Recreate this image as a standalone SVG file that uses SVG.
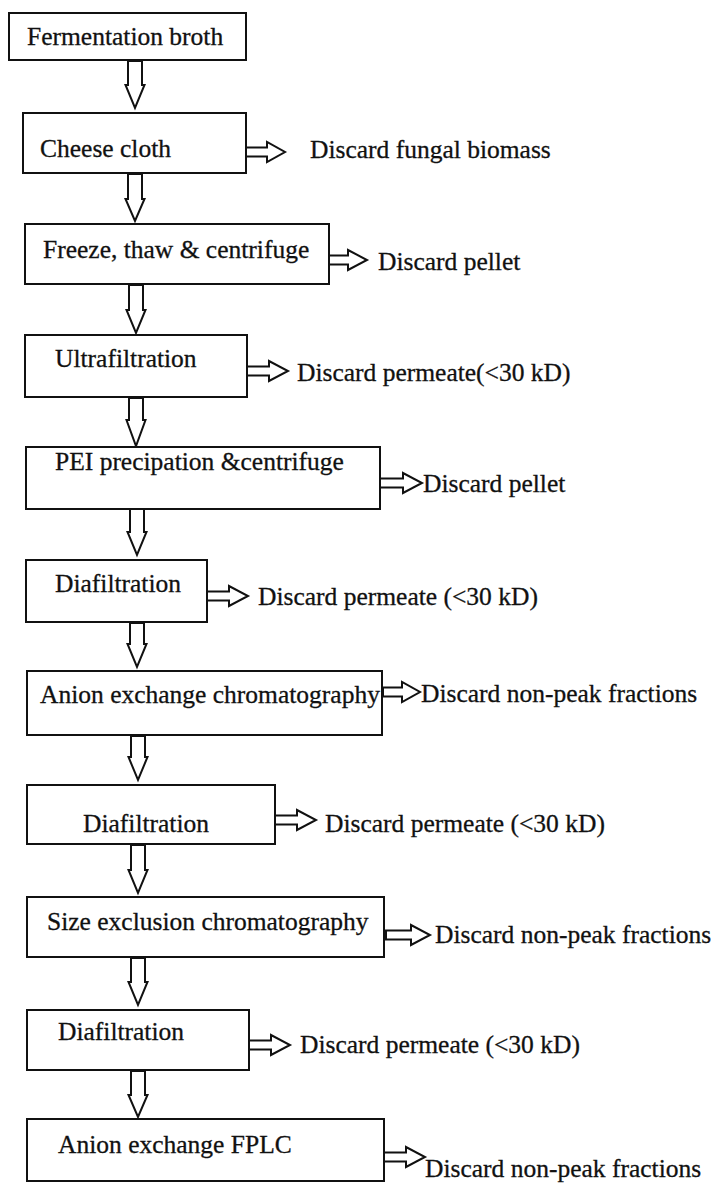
<svg xmlns="http://www.w3.org/2000/svg" width="715" height="1183" viewBox="0 0 715 1183">
<style>
.box{fill:#fff;stroke:#111;stroke-width:2}
.arr{fill:#fff;stroke:#111;stroke-width:2;stroke-linejoin:miter}
text{font-family:"Liberation Serif","Times New Roman",serif;font-size:25.5px;fill:#111;stroke:#111;stroke-width:0.3}
</style>
<rect width="715" height="1183" fill="#fff"/>
<g id="connectors">
<path class="arr" d="M128,61 V85 H125.5 L135,108 L144.5,85 H142 V61 Z"/>
<path class="arr" d="M128,174 V199 H125.5 L135,221 L144.5,199 H142 V174 Z"/>
<path class="arr" d="M129,285 V310 H126.5 L136,333 L145.5,310 H143 V285 Z"/>
<path class="arr" d="M129,398 V420 H126.5 L136,446 L145.5,420 H143 V398 Z"/>
<path class="arr" d="M130,509 V532 H127.5 L137,555 L146.5,532 H144 V509 Z"/>
<path class="arr" d="M130,623 V644 H127.5 L137,667 L146.5,644 H144 V623 Z"/>
<path class="arr" d="M131,736 V757 H128.5 L138,780 L147.5,757 H145 V736 Z"/>
<path class="arr" d="M131,845 V870 H128.5 L138,893 L147.5,870 H145 V845 Z"/>
<path class="arr" d="M131,958 V982 H128.5 L138,1005 L147.5,982 H145 V958 Z"/>
<path class="arr" d="M131,1071 V1095 H128.5 L138,1117 L147.5,1095 H145 V1071 Z"/>
<path class="arr" d="M243,147.5 H267 V142 L285,152 L267,162 V156.5 H243 Z"/>
<path class="arr" d="M324,255.5 H348 V250 L367,260 L348,270 V264.5 H324 Z"/>
<path class="arr" d="M245,366.5 H269 V361 L288,371 L269,381 V375.5 H245 Z"/>
<path class="arr" d="M378,478.5 H403 V473 L422,483 L403,493 V487.5 H378 Z"/>
<path class="arr" d="M205,591.5 H229 V586 L248,596 L229,606 V600.5 H205 Z"/>
<path class="arr" d="M383,687.5 H402 V682 L420,692 L402,702 V696.5 H383 Z"/>
<path class="arr" d="M273,815.5 H297 V810 L316,820 L297,830 V824.5 H273 Z"/>
<path class="arr" d="M386,930.5 H411 V925 L430,935 L411,945 V939.5 H386 Z"/>
<path class="arr" d="M248,1040.5 H271 V1035 L290,1045 L271,1055 V1049.5 H248 Z"/>
<path class="arr" d="M381,1152.5 H406 V1147 L425,1157 L406,1167 V1161.5 H381 Z"/>
</g>
<g id="n1"><rect class="box" x="9" y="13" width="237" height="47"/><text x="27" y="45">Fermentation broth</text></g>
<g id="n2"><rect class="box" x="23" y="113" width="223" height="60"/><text x="40" y="157">Cheese cloth</text></g>
<g id="n3"><rect class="box" x="25" y="224" width="304" height="60"/><text x="43" y="258">Freeze, thaw &amp; centrifuge</text></g>
<g id="n4"><rect class="box" x="25" y="335" width="222" height="62"/><text x="55" y="367">Ultrafiltration</text></g>
<g id="n5"><rect class="box" x="26" y="447" width="354" height="62"/><text x="55" y="470">PEI precipation &amp;centrifuge</text></g>
<g id="n6"><rect class="box" x="26" y="560" width="181" height="62"/><text x="55" y="592">Diafiltration</text></g>
<g id="n7"><rect class="box" x="27" y="671" width="355" height="64"/><text x="40" y="703">Anion exchange chromatography</text></g>
<g id="n8"><rect class="box" x="27" y="785" width="248" height="59"/><text x="83" y="832">Diafiltration</text></g>
<g id="n9"><rect class="box" x="27" y="897" width="357" height="60"/><text x="47" y="930">Size exclusion chromatography</text></g>
<g id="n10"><rect class="box" x="27" y="1010" width="222" height="60"/><text x="58" y="1040">Diafiltration</text></g>
<g id="n11"><rect class="box" x="27" y="1119" width="357" height="62"/><text x="58" y="1153">Anion exchange FPLC</text></g>
<g id="d2"><text x="310" y="158">Discard fungal biomass</text></g>
<g id="d3"><text x="378" y="270">Discard pellet</text></g>
<g id="d4"><text x="297" y="381">Discard permeate(&lt;30 kD)</text></g>
<g id="d5"><text x="423" y="492">Discard pellet</text></g>
<g id="d6"><text x="258" y="605">Discard permeate (&lt;30 kD)</text></g>
<g id="d7"><text x="421" y="702">Discard non-peak fractions</text></g>
<g id="d8"><text x="325" y="832">Discard permeate (&lt;30 kD)</text></g>
<g id="d9"><text x="435" y="943">Discard non-peak fractions</text></g>
<g id="d10"><text x="300" y="1053">Discard permeate (&lt;30 kD)</text></g>
<g id="d11"><text x="425" y="1177">Discard non-peak fractions</text></g>
</svg>
